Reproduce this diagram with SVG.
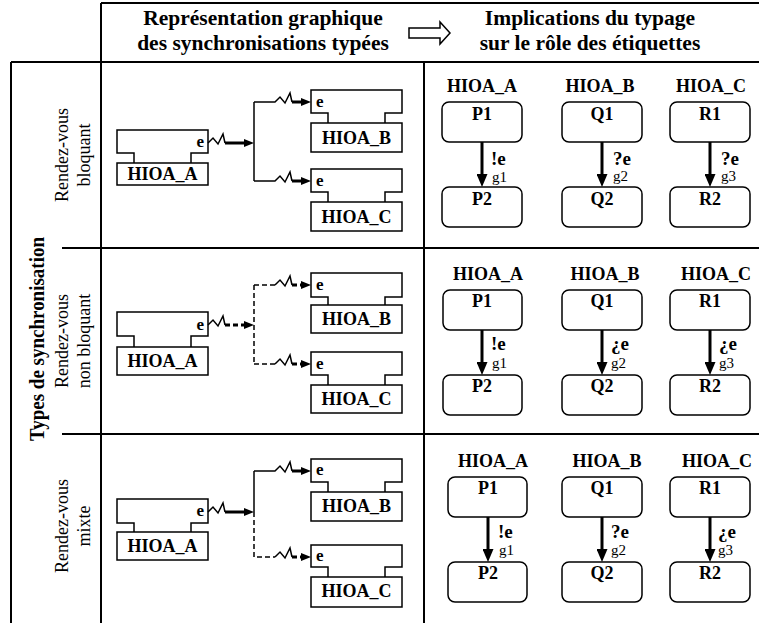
<svg xmlns="http://www.w3.org/2000/svg" width="759" height="623" viewBox="0 0 759 623">
<style>
.ln{stroke:#000;stroke-width:2;fill:none}
.t{font-family:"Liberation Serif","Times New Roman",serif;fill:#000}
.b{font-weight:bold}
.hdr{font-size:21.5px;font-weight:bold;text-anchor:middle}
.lab{font-size:18px;text-anchor:middle}
.comp{fill:none;stroke:#000;stroke-width:1.5}
.cbox{fill:#fff;stroke:#000;stroke-width:1.5}
.hn{font-size:18px;font-weight:bold;text-anchor:middle}
.ce{font-size:17px;font-weight:bold}
.thin{stroke:#000;stroke-width:1.5;fill:none}
.thick{stroke:#000;stroke-width:3;fill:none}
.dash{stroke-dasharray:5 3}
.st{fill:#fff;stroke:#000;stroke-width:1.5}
.sn{font-size:18px;font-weight:bold;text-anchor:middle}
.ev{font-size:19px;font-weight:bold}
.gd{font-size:15px}
</style>
<defs>
<marker id="ah" viewBox="0 0 10 8" refX="0" refY="4" markerWidth="10" markerHeight="8" markerUnits="userSpaceOnUse" orient="auto"><path d="M0,0 L10,4 L0,8 Z" fill="#000"/></marker>
<marker id="ah2" viewBox="0 0 13 11" refX="0" refY="5.5" markerWidth="13" markerHeight="11" markerUnits="userSpaceOnUse" orient="auto"><path d="M0,0 L13,5.5 L0,11 Z" fill="#000"/></marker>
</defs>
<rect width="759" height="623" fill="#fff"/>

<g id="grid">
<path class="ln" d="M101,3 V623 M101,3 H759 M11,62 H759 M11,62 V623 M424,62 V623 M62,248 H759 M62,434 H759"/>
</g>

<g id="header">
<text class="t hdr" x="263" y="25">Représentation graphique</text>
<text class="t hdr" x="263" y="50">des synchronisations typées</text>
<path d="M409,28 H440 V22 L450,33 L440,44 V38 H409 Z" fill="#fff" stroke="#000" stroke-width="1.5"/>
<text class="t hdr" x="590" y="25">Implications du typage</text>
<text class="t hdr" x="590" y="50">sur le rôle des étiquettes</text>
</g>

<g id="row-labels">
<text class="t hdr" font-size="17.5" textLength="204" lengthAdjust="spacingAndGlyphs" transform="translate(44,339) rotate(-90)">Types de synchronisation</text>
<text class="t lab" transform="translate(68,155) rotate(-90)">Rendez-vous</text>
<text class="t lab" transform="translate(90,155) rotate(-90)">bloquant</text>
<text class="t lab" transform="translate(68,341) rotate(-90)">Rendez-vous</text>
<text class="t lab" transform="translate(90,341) rotate(-90)">non bloquant</text>
<text class="t lab" transform="translate(68,526) rotate(-90)">Rendez-vous</text>
<text class="t lab" transform="translate(90,526) rotate(-90)">mixte</text>
</g>

<!-- Row 1 components -->
<g id="r1-hioa-a" transform="translate(117,130)">
<path class="comp" d="M17,33 V23 H0 V0 H91 V23 H74 V33"/>
<rect class="cbox" x="0" y="33" width="91" height="22"/>
<text class="t ce" x="87" y="17" text-anchor="end">e</text>
<text class="t hn" x="45.5" y="50">HIOA_A</text>
</g>
<g id="r1-hioa-b" transform="translate(311,90)">
<path class="comp" d="M17,33 V23 H0 V0 H91 V23 H74 V33"/>
<rect class="cbox" x="0" y="33" width="91" height="29"/>
<text class="t ce" x="5" y="17">e</text>
<text class="t hn" x="45.5" y="54">HIOA_B</text>
</g>
<g id="r1-hioa-c" transform="translate(311,169)">
<path class="comp" d="M17,33 V23 H0 V0 H91 V23 H74 V33"/>
<rect class="cbox" x="0" y="33" width="91" height="29"/>
<text class="t ce" x="5" y="17">e</text>
<text class="t hn" x="45.5" y="54">HIOA_C</text>
</g>

<!-- Row 2 components -->
<g id="r2-hioa-a" transform="translate(117,312)">
<path class="comp" d="M17,35 V24 H0 V0 H91 V24 H74 V35"/>
<rect class="cbox" x="0" y="35" width="91" height="28"/>
<text class="t ce" x="87" y="18" text-anchor="end">e</text>
<text class="t hn" x="45.5" y="55">HIOA_A</text>
</g>
<g id="r2-hioa-b" transform="translate(311,273)">
<path class="comp" d="M17,32 V24 H0 V0 H91 V24 H74 V32"/>
<rect class="cbox" x="0" y="32" width="91" height="28"/>
<text class="t ce" x="5" y="17">e</text>
<text class="t hn" x="45.5" y="52">HIOA_B</text>
</g>
<g id="r2-hioa-c" transform="translate(311,352)">
<path class="comp" d="M17,33 V23 H0 V0 H91 V23 H74 V33"/>
<rect class="cbox" x="0" y="33" width="91" height="28"/>
<text class="t ce" x="5" y="17">e</text>
<text class="t hn" x="45.5" y="53">HIOA_C</text>
</g>

<!-- Row 3 components -->
<g id="r3-hioa-a" transform="translate(117,499)">
<path class="comp" d="M17,33 V24 H0 V0 H91 V24 H74 V33"/>
<rect class="cbox" x="0" y="33" width="91" height="28"/>
<text class="t ce" x="87" y="17" text-anchor="end">e</text>
<text class="t hn" x="45.5" y="53">HIOA_A</text>
</g>
<g id="r3-hioa-b" transform="translate(311,459)">
<path class="comp" d="M17,33 V23 H0 V0 H91 V23 H74 V33"/>
<rect class="cbox" x="0" y="33" width="91" height="29"/>
<text class="t ce" x="5" y="16">e</text>
<text class="t hn" x="45.5" y="53">HIOA_B</text>
</g>
<g id="r3-hioa-c" transform="translate(311,545)">
<path class="comp" d="M17,32 V22 H0 V0 H91 V22 H74 V32"/>
<rect class="cbox" x="0" y="32" width="91" height="30"/>
<text class="t ce" x="5" y="16">e</text>
<text class="t hn" x="45.5" y="52">HIOA_C</text>
</g>

<!-- Right column state machines -->
<g id="r1-sm-a">
<text class="t hn" x="482" y="92">HIOA_A</text>
<rect class="st" x="442" y="102" width="80" height="40" rx="7"/>
<text class="t sn" x="482" y="120">P1</text>
<rect class="st" x="442" y="187" width="80" height="40" rx="7"/>
<text class="t sn" x="482" y="205">P2</text>
</g>
<g id="r1-sm-b">
<text class="t hn" x="600" y="92">HIOA_B</text>
<rect class="st" x="562" y="102" width="80" height="40" rx="7"/>
<text class="t sn" x="602" y="120">Q1</text>
<rect class="st" x="562" y="187" width="80" height="40" rx="7"/>
<text class="t sn" x="602" y="205">Q2</text>
</g>
<g id="r1-sm-c">
<text class="t hn" x="711" y="92">HIOA_C</text>
<rect class="st" x="670" y="102" width="80" height="40" rx="7"/>
<text class="t sn" x="710" y="120">R1</text>
<rect class="st" x="670" y="187" width="80" height="40" rx="7"/>
<text class="t sn" x="710" y="205">R2</text>
</g>

<g id="r2-sm-a">
<text class="t hn" x="488" y="280">HIOA_A</text>
<rect class="st" x="443" y="290" width="79" height="40" rx="7"/>
<text class="t sn" x="482" y="307">P1</text>
<rect class="st" x="443" y="375" width="79" height="40" rx="7"/>
<text class="t sn" x="482" y="392">P2</text>
</g>
<g id="r2-sm-b">
<text class="t hn" x="605" y="280">HIOA_B</text>
<rect class="st" x="562" y="290" width="80" height="40" rx="7"/>
<text class="t sn" x="602" y="307">Q1</text>
<rect class="st" x="562" y="375" width="80" height="40" rx="7"/>
<text class="t sn" x="602" y="392">Q2</text>
</g>
<g id="r2-sm-c">
<text class="t hn" x="716" y="280">HIOA_C</text>
<rect class="st" x="670" y="290" width="80" height="40" rx="7"/>
<text class="t sn" x="710" y="307">R1</text>
<rect class="st" x="670" y="375" width="80" height="40" rx="7"/>
<text class="t sn" x="710" y="392">R2</text>
</g>

<g id="r3-sm-a">
<text class="t hn" x="493" y="467">HIOA_A</text>
<rect class="st" x="448" y="477" width="79" height="40" rx="7"/>
<text class="t sn" x="488" y="494">P1</text>
<rect class="st" x="448" y="562" width="79" height="40" rx="7"/>
<text class="t sn" x="488" y="579">P2</text>
</g>
<g id="r3-sm-b">
<text class="t hn" x="607" y="467">HIOA_B</text>
<rect class="st" x="562" y="477" width="80" height="40" rx="7"/>
<text class="t sn" x="602" y="494">Q1</text>
<rect class="st" x="562" y="562" width="80" height="40" rx="7"/>
<text class="t sn" x="602" y="579">Q2</text>
</g>
<g id="r3-sm-c">
<text class="t hn" x="717" y="467">HIOA_C</text>
<rect class="st" x="670" y="477" width="80" height="40" rx="7"/>
<text class="t sn" x="710" y="494">R1</text>
<rect class="st" x="670" y="562" width="80" height="40" rx="7"/>
<text class="t sn" x="710" y="579">R2</text>
</g>

<g id="connectors">
<!-- Row 1: blocking -->
<path class="thin" d="M208,143 l5,-5 l5,6 l5,-10 l2,9"/>
<path class="thick" d="M225,143 H244" marker-end="url(#ah)"/>
<path class="thin" d="M254,102 V181"/>
<path class="thin" d="M254,102 H275 l5,-5 l5,6 l5,-10 l2,9"/>
<path class="thick" d="M292,102 H301" marker-end="url(#ah)"/>
<path class="thin" d="M254,181 H275 l5,-5 l5,6 l5,-10 l2,9"/>
<path class="thick" d="M292,181 H301" marker-end="url(#ah)"/>
<!-- Row 2: non-blocking -->
<path class="thin" d="M208,325 l5,-5 l5,6 l5,-10 l2,9"/>
<path class="thick dash" d="M225,325 H244" marker-end="url(#ah)"/>
<path class="thin dash" stroke-width="2" d="M254,285 V364"/>
<path class="thin dash" stroke-width="2" d="M254,285 H275"/>
<path class="thin" d="M275,285 l5,-5 l5,6 l5,-10 l2,9"/>
<path class="thick dash" d="M292,285 H301" marker-end="url(#ah)"/>
<path class="thin dash" stroke-width="2" d="M254,364 H275"/>
<path class="thin" d="M275,364 l5,-5 l5,6 l5,-10 l2,9"/>
<path class="thick dash" d="M292,364 H301" marker-end="url(#ah)"/>
<!-- Row 3: mixed -->
<path class="thin" d="M208,512 l5,-5 l5,6 l5,-10 l2,9"/>
<path class="thick" d="M225,512 H244" marker-end="url(#ah)"/>
<path class="thin" d="M254,471 V512"/>
<path class="thin dash" stroke-width="2" d="M254,512 V557 H275"/>
<path class="thin" d="M254,471 H275 l5,-5 l5,6 l5,-10 l2,9"/>
<path class="thick" d="M292,471 H301" marker-end="url(#ah)"/>
<path class="thin" d="M275,557 l5,-5 l5,6 l5,-10 l2,9"/>
<path class="thick dash" d="M292,557 H301" marker-end="url(#ah)"/>

<!-- Right column transitions -->
<path class="thick" d="M482,142 V174" marker-end="url(#ah2)"/>
<path class="thick" d="M602,142 V174" marker-end="url(#ah2)"/>
<path class="thick" d="M710,142 V174" marker-end="url(#ah2)"/>
<path class="thick" d="M482,330 V362" marker-end="url(#ah2)"/>
<path class="thick" d="M602,330 V362" marker-end="url(#ah2)"/>
<path class="thick" d="M710,330 V362" marker-end="url(#ah2)"/>
<path class="thick" d="M488,517 V549" marker-end="url(#ah2)"/>
<path class="thick" d="M602,517 V549" marker-end="url(#ah2)"/>
<path class="thick" d="M710,517 V549" marker-end="url(#ah2)"/>
</g>

<g id="transition-labels">
<text class="t ev" x="491" y="165">!e</text><text class="t gd" x="492" y="182">g1</text>
<text class="t ev" x="613" y="165">?e</text><text class="t gd" x="613" y="181">g2</text>
<text class="t ev" x="721" y="165">?e</text><text class="t gd" x="721" y="181">g3</text>
<text class="t ev" x="491" y="350">!e</text><text class="t gd" x="492" y="368">g1</text>
<text class="t ev" x="611" y="350">¿e</text><text class="t gd" x="611" y="368">g2</text>
<text class="t ev" x="719" y="350">¿e</text><text class="t gd" x="719" y="368">g3</text>
<text class="t ev" x="498" y="538">!e</text><text class="t gd" x="499" y="555">g1</text>
<text class="t ev" x="611" y="538">?e</text><text class="t gd" x="611" y="555">g2</text>
<text class="t ev" x="718" y="538">¿e</text><text class="t gd" x="718" y="555">g3</text>
</g>
</svg>
